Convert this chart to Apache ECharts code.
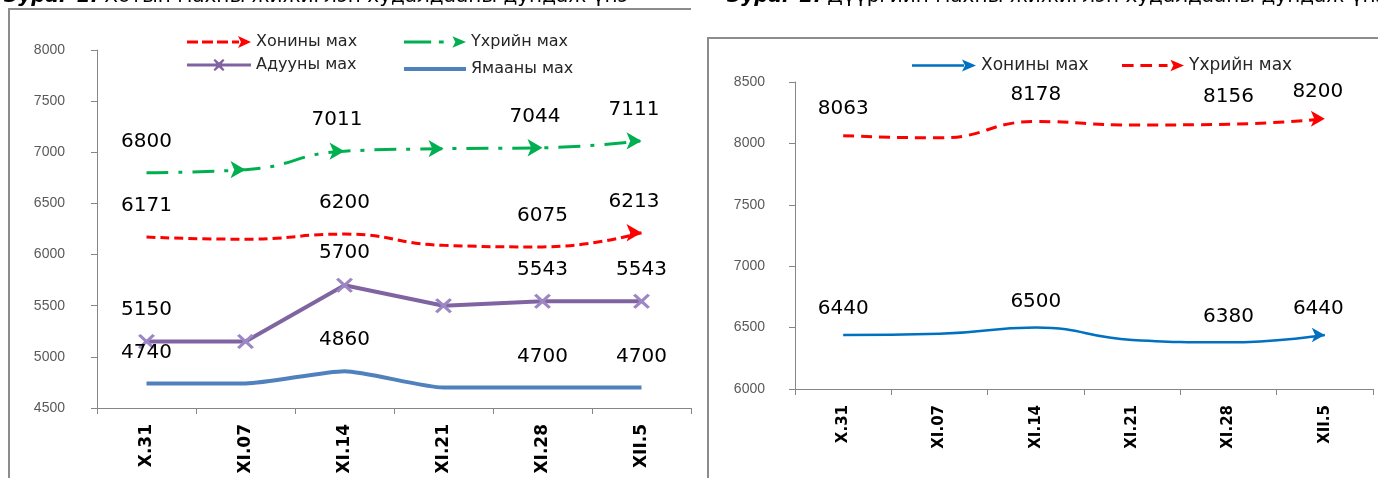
<!DOCTYPE html>
<html><head><meta charset="utf-8">
<script src="https://cdn.jsdelivr.net/npm/echarts@6/dist/echarts.min.js"></script>
<style>html,body{margin:0;padding:0;background:#fff;}#c{width:1378px;height:478px;}</style>
</head><body><div id="c"></div>
<script>
// ---- data ----
const categories = ['X.31', 'XI.07', 'XI.14', 'XI.21', 'XI.28', 'XII.5'];
const leftNames = ['Хонины мах', 'Үхрийн мах', 'Адууны мах', 'Ямааны мах'];
const leftSheep = [6171, 6150, 6200, 6090, 6075, 6213];
const leftBeef  = [6800, 6830, 7011, 7035, 7044, 7111];
const leftHorse = [5150, 5150, 5700, 5500, 5543, 5543];
const leftGoat  = [4740, 4740, 4860, 4700, 4700, 4700];
const rightNames = ['Хонины мах', 'Үхрийн мах'];
const rightSheep = [6440, 6450, 6500, 6400, 6380, 6440];
const rightBeef  = [8063, 8045, 8178, 8150, 8156, 8200];
const labeledPoints = [0, 2, 4, 5];
const leftYTicks = [4500, 8000, 500];
const rightYTicks = [6000, 8500, 500];
const titleParts = ['Зураг 1.', 'Хотын махны жижиглэн худалдааны дундаж үнэ', 'Зураг 2.', 'Дүүргийн махны жижиглэн худалдааны дундаж үнэ'];

// ---- helpers ----
function buildData(values, arrowAt, arrowSize) {
  return values.map((v, i) => {
    const item = { value: v };
    if (arrowAt.indexOf(i) >= 0) {
      item.symbol = 'arrow';
      item.symbolSize = arrowSize;
      item.symbolRotate = -90;
    }
    if (labeledPoints.indexOf(i) >= 0) item.label = { show: true };
    return item;
  });
}
function lbl(off) {
  return { show: false, position: 'inside', offset: [0, -off], fontFamily: 'DejaVu Sans', fontSize: 20, color: '#000' };
}
const ICON_RED_DASH = 'path://M0,4.5h11v3H0z M15,4.5h11v3H15z M30,4.5h11v3H30z M45,4.5h7v3h-7z M51,0L64,6L51,12L54,6z';
const ICON_GREEN_DD = 'path://M0,4.5h28v3H0z M36,4.5h5v3h-5z M50,0L64,6L50,12L53,6z';
const ICON_PURPLE_X = 'path://M0,4.5h64v3H0z M26.5,1.2L28,0L32,3.6L36,0L37.5,1.2L33.5,6L37.5,10.8L36,12L32,8.4L28,12L26.5,10.8L30.5,6z';
const ICON_BLUE_ARROW = 'path://M0,4.8h52v2.4H0z M50,0L64,6L50,12L53,6z';
const ICON_RED_DASH2 = 'path://M0,4.5h12v3H0z M19,4.5h12v3H19z M38,4.5h9v3h-9z M50,0L64,6L50,12L53,6z';
const X_SYMBOL = 'path://M0,1.2L1.5,0L5,3.6L8.5,0L10,1.2L6.4,5L10,8.8L8.5,10L5,6.4L1.5,10L0,8.8L3.6,5z';

function legendAt(name, left, top, icon, w, h, color, fs) {
  return {
    data: [{ name: name, icon: icon, itemStyle: { color: color, borderWidth: 0 } }],
    left: left, top: top, itemWidth: w, itemHeight: h, padding: 0, itemGap: 0,
    selectedMode: false,
    textStyle: { fontFamily: 'DejaVu Sans', fontSize: fs, color: '#262626' }
  };
}
function xAx(gi, fs, margin) {
  return {
    gridIndex: gi, type: 'category', data: categories, boundaryGap: true,
    axisLine: { show: true, lineStyle: { color: '#868686', width: 1 } },
    axisTick: { show: true, length: 6, lineStyle: { color: '#868686' } },
    axisLabel: { rotate: 90, margin: margin, fontFamily: 'DejaVu Sans', fontWeight: 'bold', fontSize: fs, color: '#000' },
    splitLine: { show: false }
  };
}
function yAx(gi, t, margin) {
  return {
    gridIndex: gi, type: 'value', min: t[0], max: t[1], interval: t[2],
    axisLine: { show: true, lineStyle: { color: '#868686', width: 1 } },
    axisTick: { show: true, length: 6, lineStyle: { color: '#868686' } },
    axisLabel: { margin: margin, fontFamily: 'Liberation Sans', fontSize: 14, color: '#595959', formatter: function (v) { return String(v); } },
    splitLine: { show: false }
  };
}

const chart = echarts.init(document.getElementById('c'));
chart.setOption({
  animation: false,
  backgroundColor: '#fff',
  graphic: [
    { type: 'polyline', shape: { points: [[9, 700], [9, 9], [691, 9]] }, style: { stroke: '#8c8c8c', lineWidth: 2, fill: null }, z: 0, silent: true },
    { type: 'rect', shape: { x: 708, y: 38, width: 900, height: 700 }, style: { fill: '#fff', stroke: '#8c8c8c', lineWidth: 2 }, z: 0, silent: true },
    { type: 'text', x: 4, y: -13, silent: true,
      style: { text: '{b|' + titleParts[0] + '} ' + titleParts[1], fontFamily: 'DejaVu Sans', fontSize: 20, fill: '#000', verticalAlign: 'top',
        rich: { b: { fontFamily: 'DejaVu Sans', fontSize: 20, fontWeight: 'bold', fontStyle: 'italic', fill: '#000' } } } },
    { type: 'text', x: 727, y: -13, silent: true,
      style: { text: '{b|' + titleParts[2] + '} ' + titleParts[3], fontFamily: 'DejaVu Sans', fontSize: 20, fill: '#000', verticalAlign: 'top',
        rich: { b: { fontFamily: 'DejaVu Sans', fontSize: 20, fontWeight: 'bold', fontStyle: 'italic', fill: '#000' } } } }
  ],
  legend: [
    legendAt(leftNames[0], 187, 34, ICON_RED_DASH, 64, 12, '#FF0000', 16),
    legendAt(leftNames[1], 404, 34, ICON_GREEN_DD, 62, 12, '#00B050', 16),
    legendAt(leftNames[2], 187, 57, ICON_PURPLE_X, 64, 12, '#8064A2', 16),
    legendAt(leftNames[3], 404, 61, 'rect', 62, 4, '#4F81BD', 16),
    legendAt(rightNames[0], 912, 57, ICON_BLUE_ARROW, 64, 12, '#0070C0', 17),
    legendAt(rightNames[1], 1122, 57, ICON_RED_DASH2, 62, 12, '#FF0000', 17)
  ],
  grid: [
    { left: 97, top: 50, width: 594, height: 358, containLabel: false },
    { left: 795, top: 82, width: 578, height: 307, containLabel: false }
  ],
  xAxis: [xAx(0, 17, 16), xAx(1, 15, 16)],
  yAxis: [yAx(0, leftYTicks, 32), yAx(1, rightYTicks, 30)],
  series: [
    { type: 'line', name: leftNames[3], xAxisIndex: 0, yAxisIndex: 0, data: buildData(leftGoat, [], 0),
      smooth: 0.2, symbol: 'circle', symbolSize: 0, silent: true,
      lineStyle: { color: '#4F81BD', width: 4 }, itemStyle: { color: '#4F81BD' }, label: lbl(31) },
    { type: 'line', name: leftNames[2], xAxisIndex: 0, yAxisIndex: 0, data: buildData(leftHorse, [], 0),
      smooth: false, symbol: X_SYMBOL, symbolSize: [17, 15], silent: true,
      lineStyle: { color: '#8064A2', width: 4 }, itemStyle: { color: '#9C86C4' }, label: lbl(32) },
    { type: 'line', name: leftNames[0], xAxisIndex: 0, yAxisIndex: 0, data: buildData(leftSheep, [5], [13, 15]),
      smooth: 0.5, symbol: 'circle', symbolSize: 0, silent: true,
      lineStyle: { color: '#FF0000', width: 3, type: [9, 5] }, itemStyle: { color: '#FF0000' }, label: lbl(31) },
    { type: 'line', name: leftNames[1], xAxisIndex: 0, yAxisIndex: 0, data: buildData(leftBeef, [1, 2, 3, 4, 5], [13, 15]),
      smooth: 0.5, symbol: 'circle', symbolSize: 0, silent: true,
      lineStyle: { color: '#00B050', width: 3, type: [22, 10, 4, 10] }, itemStyle: { color: '#00B050' }, label: lbl(31) },
    { type: 'line', name: rightNames[0], xAxisIndex: 1, yAxisIndex: 1, data: buildData(rightSheep, [5], [11, 13]),
      smooth: 0.5, symbol: 'circle', symbolSize: 0, silent: true,
      lineStyle: { color: '#0070C0', width: 2.5 }, itemStyle: { color: '#0070C0' }, label: lbl(26) },
    { type: 'line', name: rightNames[1], xAxisIndex: 1, yAxisIndex: 1, data: buildData(rightBeef, [5], [12, 14]),
      smooth: 0.5, symbol: 'circle', symbolSize: 0, silent: true,
      lineStyle: { color: '#FF0000', width: 3, type: [11, 7] }, itemStyle: { color: '#FF0000' }, label: lbl(27) }
  ]
});
</script>
</body></html>
